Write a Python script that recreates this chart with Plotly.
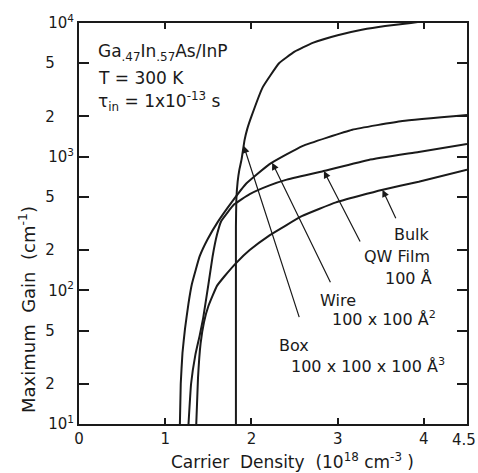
import numpy as np
import plotly.graph_objects as go

# ---- data (carrier density in 1e18 cm^-3, maximum gain in cm^-1) ----
bulk_n = [1.36, 1.38, 1.41, 1.45, 1.50, 1.60, 1.69, 1.83, 1.98, 2.21, 2.59, 2.98, 3.51, 3.94, 4.5]
bulk_g = [10, 22, 40, 58, 76, 108, 128, 162, 200, 258, 360, 455, 563, 650, 800]

qw_n = [1.27, 1.30, 1.35, 1.40, 1.44, 1.50, 1.55, 1.60, 1.65, 1.80, 1.98, 2.21, 2.40, 2.82, 3.36, 3.94, 4.5]
qw_g = [10, 20, 33, 46, 62, 110, 180, 260, 330, 440, 525, 610, 670, 775, 945, 1085, 1245]

wire_n = [1.17, 1.18, 1.20, 1.23, 1.27, 1.31, 1.40, 1.49, 1.61, 1.78, 1.94, 2.21, 2.59, 3.17, 3.75, 4.5]
wire_g = [10, 20, 34, 52, 80, 112, 180, 240, 325, 465, 630, 880, 1200, 1590, 1850, 2050]

box_n = [1.82, 1.82, 1.825, 1.84, 1.86, 1.885, 1.92, 1.95, 2.00, 2.13, 2.32, 2.50, 2.71, 3.00, 3.28, 3.55, 3.85, 4.5]
box_g = [10, 300, 480, 650, 800, 950, 1330, 1600, 2000, 3300, 5000, 6100, 7100, 8100, 8900, 9500, 10000, 11500]

x_ticks = [0, 1, 2, 3, 4, 4.5]
x_labels = ["0", "1", "2", "3", "4", ""]
x_end_label = "4.5"
y_ticks = [10, 20, 50, 100, 200, 500, 1000, 2000, 5000, 10000]
fs = "\u2007\u2007"
y_labels = ["10<sup>1</sup>", "2" + fs, "5" + fs, "10<sup>2</sup>", "2" + fs, "5" + fs,
            "10<sup>3</sup>", "2" + fs, "5" + fs, "10<sup>4</sup>"]

INK = "#1a1a1a"
FONT = "DejaVu Sans"

fig = go.Figure()
for n, g in [(bulk_n, bulk_g), (qw_n, qw_g), (wire_n, wire_g), (box_n, box_g)]:
    fig.add_trace(go.Scatter(x=n, y=g, mode="lines",
                             line=dict(color=INK, width=2, shape="spline", smoothing=0.35),
                             showlegend=False, hoverinfo="skip"))

# plot-area geometry in pixels
L, R, T, B = 79, 467, 23, 424
W, H = 478, 473
def px(x):
    return (x - L) / (R - L)
def py(y):
    return (B - y) / (B - T)

ann = []
def text(s, x, y, anchor="left", size=15):
    ann.append(dict(text=s, x=px(x), y=py(y), xref="paper", yref="paper",
                    xanchor=anchor, yanchor="middle", showarrow=False,
                    font=dict(family=FONT, size=size, color=INK)))

text("Ga<sub>.47</sub>In<sub>.57</sub>As/InP", 96, 52, size=17)
text("T = 300 K", 96, 78, size=17)
text("τ<sub>in</sub> = 1x10<sup>-13</sup> s", 96, 101, size=17)
text("Bulk", 432, 235, "right", 16)
text("QW Film", 432, 256, "right", 16)
text("100 Å", 434, 278, "right", 16)
text("Wire", 318, 300, size=16)
text("100 x 100 Å<sup>2</sup>", 330, 318, size=16)
text("Box", 277, 345, size=16)
text("100 x 100 x 100 Å<sup>3</sup>", 289, 365, size=16)
text(x_end_label, 478, 440, "right", 15)

# arrows pointing to the curves
def arrow(n_arr, g_arr, n_tip, ax, ay):
    g = 10 ** np.interp(n_tip, n_arr, np.log10(g_arr))
    ann.append(dict(x=n_tip, y=np.log10(g), xref="x", yref="y", ax=ax, ay=ay,
                    showarrow=True, arrowhead=2, arrowsize=1.2, arrowwidth=1.2,
                    arrowcolor=INK, text=""))

arrow(bulk_n, bulk_g, 3.52, 14, 30)
arrow(qw_n, qw_g, 2.84, 37, 72)
arrow(wire_n, wire_g, 2.24, 59, 121)
arrow(box_n, box_g, 1.91, 56, 173)

# axis titles
ann.append(dict(text="Carrier  Density  (10<sup>18</sup> cm<sup>-3</sup> )", x=px(292), y=py(461),
                xref="paper", yref="paper", xanchor="center", yanchor="middle",
                showarrow=False, font=dict(family=FONT, size=17, color=INK)))
ann.append(dict(text="Maximum  Gain  (cm<sup>-1</sup>)", x=px(27), y=py(310),
                xref="paper", yref="paper", xanchor="center", yanchor="middle",
                textangle=-90, showarrow=False, font=dict(family=FONT, size=18, color=INK)))

fig.update_layout(
    width=W, height=H,
    margin=dict(l=L, r=W - R, t=T, b=H - B, autoexpand=False),
    paper_bgcolor="white", plot_bgcolor="white",
    annotations=ann,
    font=dict(family=FONT, size=15, color=INK),
    xaxis=dict(range=[0, 4.5], tickvals=x_ticks, ticktext=x_labels, automargin=False,
               ticks="inside", ticklen=6, tickwidth=1.5, tickcolor=INK,
               showline=True, linecolor=INK, linewidth=2, mirror="allticks",
               showgrid=False, zeroline=False, tickfont=dict(size=15)),
    yaxis=dict(type="log", range=[1, 4], tickvals=y_ticks, ticktext=y_labels, automargin=False,
               ticks="inside", ticklen=10, tickwidth=1.5, tickcolor=INK,
               showline=True, linecolor=INK, linewidth=2, mirror="allticks",
               showgrid=False, zeroline=False, tickfont=dict(size=15)),
)

fig.write_html("out.html", config={"displayModeBar": False},
               post_script="document.body.style.margin='0';")
